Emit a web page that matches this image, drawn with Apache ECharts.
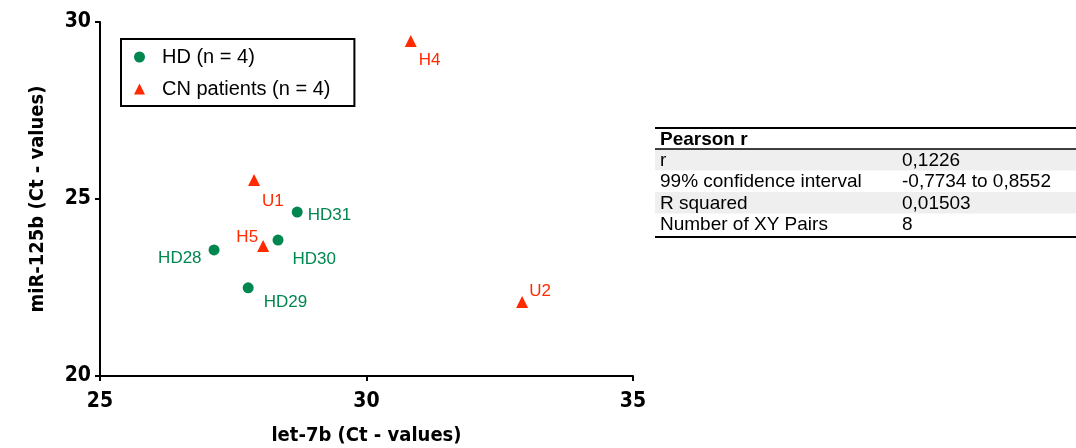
<!DOCTYPE html>
<html>
<head>
    <meta charset="UTF-8">
    <title>let-7b vs miR-125b</title>
    <script src="https://cdn.jsdelivr.net/npm/echarts@6/dist/echarts.min.js"></script>
</head>
<body style="margin:0">
    <div id="main" style="width:1076px;height:448px;"></div>
    <script>
        // values
        var hdNames = ['HD28', 'HD29', 'HD30', 'HD31'];
        var hdX = [27.14, 27.78, 28.34, 28.70];
        var hdY = [23.56, 22.49, 23.84, 24.63];

        var cnNames = ['U1', 'H5', 'H4', 'U2'];
        var cnX = [27.89, 28.06, 30.83, 32.92];
        var cnY = [25.54, 23.67, 29.46, 22.09];

        var xTicks = [25, 30, 35];
        var yTicks = [20, 25, 30];

        var tableHeader = 'Pearson r';
        var tableRows = [
            ['r', '0,1226'],
            ['99% confidence interval', '-0,7734 to 0,8552'],
            ['R squared', '0,01503'],
            ['Number of XY Pairs', '8']
        ];

        // where each point label sits relative to its marker
        var labelPlace = {
            HD28: ['left', [-2, 8]],
            HD29: ['right', [5, 14]],
            HD30: ['right', [4, 19]],
            HD31: ['right', [0, 3]],
            U1: ['right', [-3, 21]],
            H5: ['left', [6, -9]],
            H4: ['right', [-3, 19]],
            U2: ['right', [-4, -11]]
        };

        var green = '#00874f';
        var red = '#ff2a00';
        var boldNarrow = '"Liberation Sans Narrow", "DejaVu Sans Condensed", "Liberation Sans", sans-serif';
        var plain = '"Liberation Sans", Helvetica, Arial, sans-serif';

        function makePoints(names, xs, ys) {
            return names.map(function (n, i) {
                var p = labelPlace[n];
                return {
                    name: n,
                    value: [xs[i], ys[i]],
                    label: { position: p[0], offset: p[1] }
                };
            });
        }

        // table drawn as graphics
        var tLeft = 655, tTop = 128, headH = 21, rowH = 21.5, col2 = 902;
        var tableGraphics = [];
        tableGraphics.push({
            type: 'text', x: 660, y: tTop + headH / 2 + 1,
            style: { text: tableHeader, font: 'bold 19px ' + plain, fill: '#000', verticalAlign: 'middle' }
        });
        tableRows.forEach(function (row, i) {
            var y = tTop + headH + i * rowH;
            if (i % 2 === 0) {
                tableGraphics.push({
                    type: 'rect', shape: { x: tLeft, y: y, width: 1076 - tLeft, height: rowH },
                    style: { fill: '#efefef' }, z: 0
                });
            }
            tableGraphics.push({
                type: 'text', x: 660, y: y + rowH / 2 + 1,
                style: { text: row[0], font: '19px ' + plain, fill: '#000', verticalAlign: 'middle' }, z: 2
            });
            tableGraphics.push({
                type: 'text', x: col2, y: y + rowH / 2 + 1,
                style: { text: row[1], font: '19px ' + plain, fill: '#000', verticalAlign: 'middle' }, z: 2
            });
        });
        var bottomY = tTop + headH + tableRows.length * rowH + 2;
        [[tTop, 2], [tTop + headH, 1.5], [bottomY, 2]].forEach(function (l) {
            tableGraphics.push({
                type: 'line', shape: { x1: tLeft, y1: l[0], x2: 1076, y2: l[0] },
                style: { stroke: '#000', lineWidth: l[1] }, z: 3
            });
        });

        var myChart = echarts.init(document.getElementById('main'));

        var option = {
            animation: false,
            backgroundColor: '#fff',
            graphic: tableGraphics,
            grid: { left: 100, right: 443, top: 22, bottom: 72, outerBoundsMode: 'none' },
            legend: {
                orient: 'vertical',
                left: 121,
                top: 39,
                padding: [8, 24, 7, 13],
                itemWidth: 11,
                itemHeight: 11,
                itemGap: 12,
                borderColor: '#000',
                borderWidth: 2,
                borderRadius: 0,
                textStyle: { fontSize: 20, fontFamily: plain, color: '#000', padding: [0, 0, 0, 12] },
                data: ['HD (n = 4)', 'CN patients (n = 4)']
            },
            xAxis: {
                type: 'value',
                min: xTicks[0],
                max: xTicks[xTicks.length - 1],
                interval: 5,
                name: 'let-7b (Ct - values)',
                nameLocation: 'middle',
                nameGap: 50,
                nameTextStyle: { fontSize: 20, fontWeight: 'bold', fontFamily: boldNarrow, color: '#000' },
                axisLine: { lineStyle: { color: '#000', width: 2 } },
                axisTick: { length: 5, lineStyle: { color: '#000', width: 2 } },
                axisLabel: { fontSize: 21, fontWeight: 'bold', fontFamily: boldNarrow, color: '#000', margin: 15 },
                splitLine: { show: false }
            },
            yAxis: {
                type: 'value',
                min: yTicks[0],
                max: yTicks[yTicks.length - 1],
                interval: 5,
                name: 'miR-125b (Ct - values)',
                nameLocation: 'middle',
                nameGap: 52,
                nameTextStyle: { fontSize: 20, fontWeight: 'bold', fontFamily: boldNarrow, color: '#000' },
                axisLine: { show: true, lineStyle: { color: '#000', width: 2 } },
                axisTick: { show: true, length: 5, lineStyle: { color: '#000', width: 2 } },
                axisLabel: { fontSize: 21, fontWeight: 'bold', fontFamily: boldNarrow, color: '#000', margin: 9 },
                splitLine: { show: false }
            },
            series: [{
                name: 'HD (n = 4)',
                type: 'scatter',
                symbol: 'circle',
                symbolSize: 11,
                itemStyle: { color: green, opacity: 1 },
                label: {
                    show: true, formatter: '{b}', color: green,
                    fontSize: 17, fontFamily: plain
                },
                data: makePoints(hdNames, hdX, hdY)
            }, {
                name: 'CN patients (n = 4)',
                type: 'scatter',
                symbol: 'triangle',
                symbolSize: 12,
                itemStyle: { color: red, opacity: 1 },
                label: {
                    show: true, formatter: '{b}', color: red,
                    fontSize: 17, fontFamily: plain
                },
                data: makePoints(cnNames, cnX, cnY)
            }]
        };
        myChart.setOption(option);
    </script>
</body>
</html>
